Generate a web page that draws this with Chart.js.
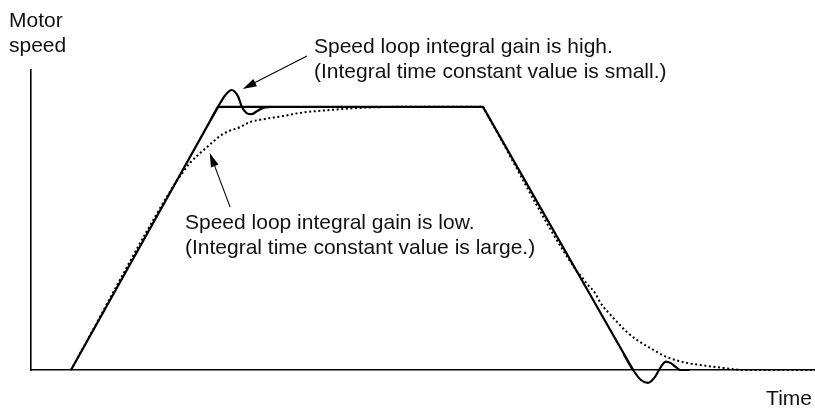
<!DOCTYPE html>
<html>
<head>
<meta charset="utf-8">
<script src="https://cdn.jsdelivr.net/npm/chart.js@4/dist/chart.umd.min.js"></script>
<style>
  html, body { margin: 0; padding: 0; background: #fff; }
  #wrap { width: 815px; height: 410px; }
</style>
</head>
<body>
<div id="wrap"><canvas id="chart" width="815" height="410"></canvas></div>
<script>
// time axis 0..100, speed axis 0..114 (set speed = 100)
const rampX = [5.1, 23.85, 57.65, 76.8],
    rampY = [0, 100, 100, 0];

const highGainX = [22.9, 23.85, 24.8, 25.6, 26.4, 26.9, 27.5, 28.1, 28.8, 29.6, 30.6],
    highGainY = [95, 100, 104.5, 106.4, 104, 100, 97.6, 97.2, 98.3, 99.6, 100];

const stopX = [75.6, 76.8, 77.8, 78.7, 79.5, 80.1, 80.7, 81.0, 81.6, 82.3, 82.8, 84],
    stopY = [6, 0, -3.8, -4.9, -3, 0, 2.7, 3.2, 2.6, 1, 0, 0];

const lowAccelX = [5.1, 18.24, 19.39, 20.28, 21.3, 22.45, 23.47, 24.74, 26.66, 27.93, 29.85, 32.14, 34.31, 38.14, 41.96, 47.07, 57.65],
    lowAccelY = [0, 70.3, 75.2, 78.7, 81.7, 84.7, 87.4, 90.1, 92.3, 94.2, 95.4, 96.5, 97.7, 98.8, 99.6, 100, 100];

const lowDecelX = [57.65, 69.5, 70.28, 70.92, 71.94, 72.58, 73.6, 74.87, 76.02, 77.3, 78.95, 81.12, 83.67, 85.33, 88.27, 91.07, 100],
    lowDecelY = [100, 38, 35.3, 32.7, 29.3, 25.8, 22.0, 17.9, 14.4, 11.4, 8.4, 4.9, 2.7, 1.9, 0.8, 0, 0];

// arrows: [fromX, fromY, toX, toY]
const highArrow = [35.2, 119.3, 27.0, 106.8],
    lowArrow = [25.4, 61.9, 22.8, 82.5];

const highText = ['Speed loop integral gain is high.', '(Integral time constant value is small.)'],
    lowText = ['Speed loop integral gain is low.', '(Integral time constant value is large.)'],
    yTitle = ['Motor', 'speed'],
    xTitle = 'Time';

const FONT = '21px "Liberation Sans", Arial, sans-serif';

function pts(xs, ys) {
    return xs.map((x, i) => ({ x: x, y: ys[i] }));
}

const solid = { borderColor: '#000', borderWidth: 2.2, pointRadius: 0, fill: false, clip: false };
const dotted = { borderColor: '#000', borderWidth: 2, borderDash: [2, 2.6], pointRadius: 0, fill: false, clip: false, cubicInterpolationMode: 'monotone' };

function drawArrow(ctx, x1, y1, x2, y2) {
    const a = Math.atan2(y2 - y1, x2 - x1), len = 14, w = 4;
    ctx.beginPath();
    ctx.moveTo(x1, y1);
    ctx.lineTo(x2 - Math.cos(a) * len * 0.8, y2 - Math.sin(a) * len * 0.8);
    ctx.stroke();
    ctx.beginPath();
    ctx.moveTo(x2, y2);
    ctx.lineTo(x2 - Math.cos(a) * len - Math.sin(a) * w, y2 - Math.sin(a) * len + Math.cos(a) * w);
    ctx.lineTo(x2 - Math.cos(a) * len + Math.sin(a) * w, y2 - Math.sin(a) * len - Math.cos(a) * w);
    ctx.closePath();
    ctx.fill();
}

const notes = {
    id: 'notes',
    afterDatasetsDraw(chart) {
        const ctx = chart.ctx, sx = chart.scales.x, sy = chart.scales.y;
        ctx.save();
        ctx.strokeStyle = '#000';
        ctx.fillStyle = '#000';
        ctx.lineWidth = 1.1;
        for (const ar of [highArrow, lowArrow]) {
            drawArrow(ctx, sx.getPixelForValue(ar[0]), sy.getPixelForValue(ar[1]),
                sx.getPixelForValue(ar[2]), sy.getPixelForValue(ar[3]));
        }
        ctx.font = FONT;
        ctx.fillStyle = '#111';
        ctx.textBaseline = 'alphabetic';
        ctx.textAlign = 'left';
        ctx.fillText(yTitle[0], 9, 27);
        ctx.fillText(yTitle[1], 9, 52);
        ctx.fillText(highText[0], 314, 53);
        ctx.fillText(highText[1], 314, 78);
        ctx.fillText(lowText[0], 185, 229);
        ctx.fillText(lowText[1], 185, 254);
        ctx.textAlign = 'right';
        ctx.fillText(xTitle, 812, 405);
        ctx.restore();
    }
};

new Chart(document.getElementById('chart'), {
    type: 'line',
    data: {
        datasets: [
            Object.assign({ label: 'ramp', data: pts(rampX, rampY), tension: 0 }, solid),
            Object.assign({ label: 'high', data: pts(highGainX, highGainY), cubicInterpolationMode: 'monotone' }, solid),
            Object.assign({ label: 'stop', data: pts(stopX, stopY), cubicInterpolationMode: 'monotone' }, solid),
            Object.assign({ label: 'low accel', data: pts(lowAccelX, lowAccelY) }, dotted),
            Object.assign({ label: 'low decel', data: pts(lowDecelX, lowDecelY) }, dotted)
        ]
    },
    options: {
        responsive: false,
        animation: false,
        layout: { padding: { left: 31, top: 70, right: 0, bottom: 40 } },
        plugins: { legend: { display: false }, tooltip: { enabled: false } },
        scales: {
            x: {
                type: 'linear', min: 0, max: 100,
                ticks: { display: false },
                grid: { display: false, drawTicks: false },
                border: { display: true, color: '#000', width: 1.6 }
            },
            y: {
                type: 'linear', min: 0, max: 114,
                ticks: { display: false },
                grid: { display: false, drawTicks: false },
                border: { display: true, color: '#000', width: 1.6 }
            }
        }
    },
    plugins: [notes]
});
</script>
</body>
</html>
